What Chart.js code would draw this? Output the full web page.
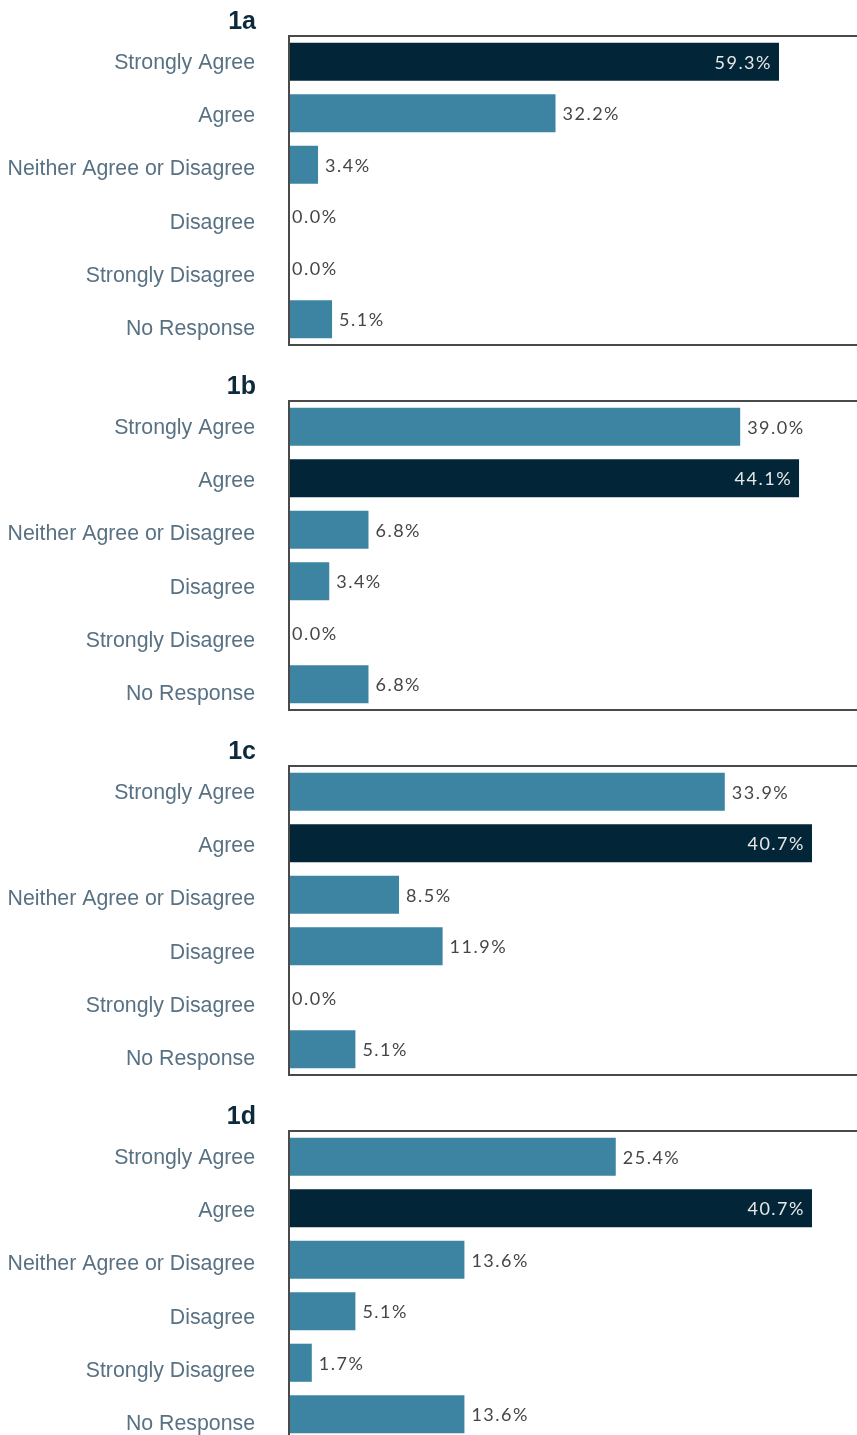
<!DOCTYPE html>
<html>
<head>
<meta charset="utf-8">
<script src="https://cdn.jsdelivr.net/npm/chart.js@4/dist/chart.umd.min.js"></script>
<style>
  html, body { margin: 0; padding: 0; background: #fff; overflow: hidden; }
  .panel { position: relative; width: 857px; height: 365px; }
</style>
</head>
<body>
<div id="wrap"></div>
<script>
// survey answers, one row per answer option
const categories = [
  'Strongly Agree',
  'Agree',
  'Neither Agree or Disagree',
  'Disagree',
  'Strongly Disagree',
  'No Response'
];

const panelNames = ['1a', '1b', '1c', '1d'];

const values1a = [59.3, 32.2, 3.4, 0.0, 0.0, 5.1];
const values1b = [39.0, 44.1, 6.8, 3.4, 0.0, 6.8];
const values1c = [33.9, 40.7, 8.5, 11.9, 0.0, 5.1];
const values1d = [25.4, 40.7, 13.6, 5.1, 1.7, 13.6];

const seriesList = [values1a, values1b, values1c, values1d];

const BLUE = '#3d84a3';
const DARK = '#022538';

// box around the plot area: left, top and bottom lines
const framePlugin = {
  id: 'frame',
  afterDatasetsDraw(chart) {
    const { ctx, chartArea: a } = chart;
    ctx.save();
    ctx.strokeStyle = '#4a4a4a';
    ctx.lineWidth = 2;
    ctx.beginPath();
    ctx.moveTo(a.right + 2, a.top);
    ctx.lineTo(a.left - 1, a.top);
    ctx.lineTo(a.left - 1, a.bottom);
    ctx.lineTo(a.right + 2, a.bottom);
    ctx.stroke();
    ctx.restore();
  }
};

// percentage labels at the end of each bar (inside for the largest one)
const valueLabels = {
  id: 'valueLabels',
  afterDatasetsDraw(chart) {
    const { ctx } = chart;
    const data = chart.data.datasets[0].data;
    const top = Math.max(...data);
    const meta = chart.getDatasetMeta(0);
    ctx.save();
    ctx.font = '18px Lato';
    ctx.letterSpacing = '1.5px';
    ctx.textBaseline = 'middle';
    meta.data.forEach((bar, i) => {
      const txt = data[i].toFixed(1) + '%';
      if (data[i] === top) {
        ctx.fillStyle = '#e8e8e8';
        ctx.textAlign = 'right';
        ctx.fillText(txt, bar.x - 7, bar.y + 1);
      } else {
        ctx.fillStyle = '#464646';
        ctx.textAlign = 'left';
        ctx.fillText(txt, bar.x + (data[i] === 0 ? 2 : 7), bar.y + 1);
      }
    });
    ctx.restore();
  }
};

// bold panel name above the answer labels
const panelTitle = {
  id: 'panelTitle',
  afterDraw(chart, args, opts) {
    const { ctx } = chart;
    ctx.save();
    ctx.font = 'bold 25px "Liberation Sans", Arial';
    ctx.fillStyle = '#0c2a3b';
    ctx.textAlign = 'right';
    ctx.textBaseline = 'middle';
    ctx.fillText(opts.text, 256, 22);
    ctx.restore();
  }
};

// axis ranges per panel
const axisMax = [68.76, 49.12, 44.21, 44.21];

const wrap = document.getElementById('wrap');

seriesList.forEach((values, p) => {
  const div = document.createElement('div');
  div.className = 'panel';
  const canvas = document.createElement('canvas');
  div.appendChild(canvas);
  wrap.appendChild(div);

  const top = Math.max(...values);

  new Chart(canvas, {
    type: 'bar',
    data: {
      labels: categories,
      datasets: [{
        data: values,
        backgroundColor: values.map(v => v === top ? DARK : BLUE),
        borderWidth: 0,
        categoryPercentage: 1,
        barPercentage: 0.74
      }]
    },
    options: {
      indexAxis: 'y',
      responsive: true,
      maintainAspectRatio: false,
      animation: false,
      layout: { padding: { top: 36, bottom: 20, left: 0, right: 0 } },
      plugins: {
        legend: { display: false },
        tooltip: { enabled: false },
        panelTitle: { text: panelNames[p] }
      },
      scales: {
        x: {
          type: 'linear',
          min: 0,
          max: axisMax[p],
          display: false
        },
        y: {
          type: 'category',
          display: false,
          offset: true
        },
        // separate axis that only carries the answer labels
        yl: {
          type: 'linear',
          position: 'left',
          reverse: true,
          offset: false,
          bounds: 'data',
          min: -0.50,
          max: 5.29,
          afterBuildTicks: scale => {
            scale.ticks = categories.map((c, i) => ({ value: i }));
          },
          afterFit: scale => {
            scale.width = 290;
            scale.paddingTop = 0;
            scale.paddingBottom = 0;
          },
          grid: { display: false, drawTicks: false },
          border: { display: false },
          ticks: {
            padding: 35,
            autoSkip: false,
            color: '#587183',
            font: { size: 21.3, family: '"Liberation Sans", Arial' },
            callback: v => categories[v]
          }
        }
      }
    },
    plugins: [framePlugin, valueLabels, panelTitle]
  });
});
</script>
</body>
</html>
